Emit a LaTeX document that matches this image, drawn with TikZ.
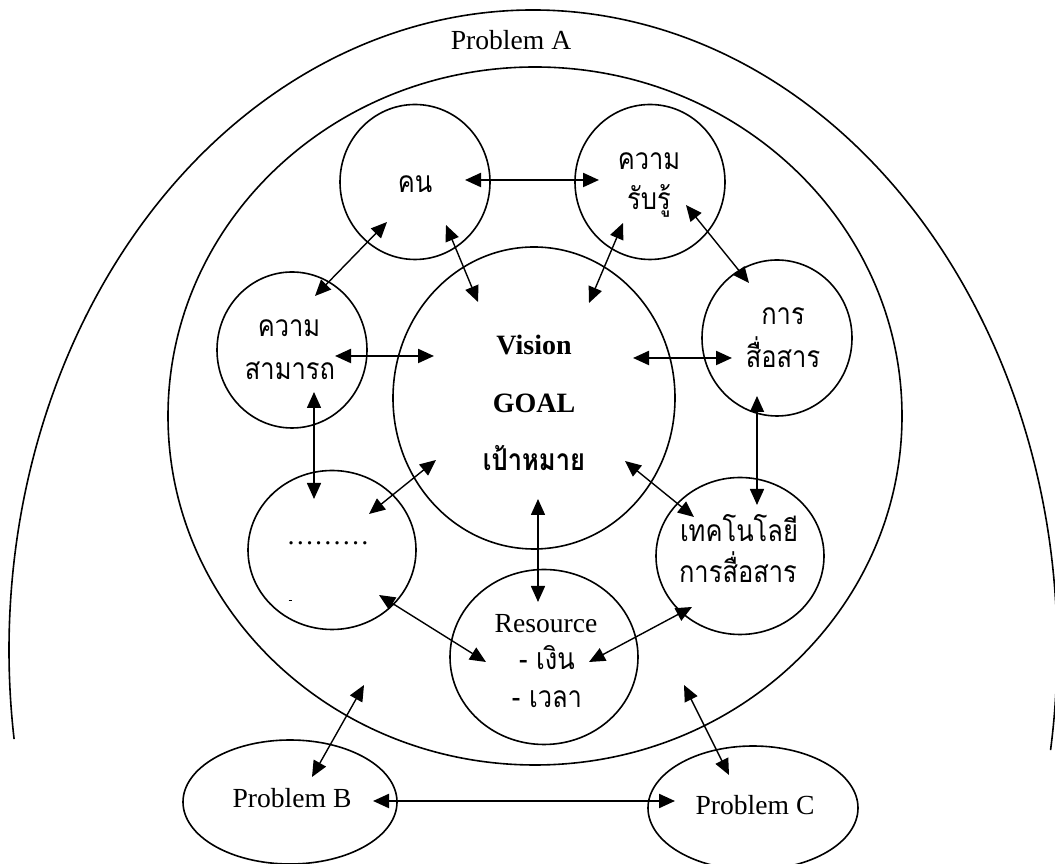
\documentclass[tikz,border=0pt]{standalone}
\usepackage{fontspec}
\setmainfont{Liberation Serif}
\newfontfamily\thai[Script=Thai,FakeStretch=0.85]{Loma}
\usetikzlibrary{shapes.geometric,arrows.meta}
\begin{document}
\begin{tikzpicture}[x=1pt,y=1pt,
  ring/.style={draw,line width=1.6pt,ellipse,inner sep=0pt},
  link/.style={arrows={Triangle[length=16pt,width=14pt]-Triangle[length=16pt,width=14pt]},line width=1.4pt},
  heavy link/.style={link,line width=2.2pt},
  lat/.style={anchor=base,inner sep=0pt,font=\fontsize{27.6}{30}\selectfont},
  latb/.style={lat,font=\bfseries\fontsize{28}{30}\selectfont},
  th/.style={anchor=base,inner sep=0pt,font=\thai\fontsize{30}{32}\selectfont},
  thb/.style={th,font=\thai\bfseries\fontsize{30}{32}\selectfont},
]
\useasboundingbox (0,0) rectangle (1055,864);

% outer boundary of Problem A
\draw[line width=1.6pt] (533,214) ++(-9:524 and 640)
  arc[start angle=-9,end angle=188,x radius=524,y radius=640];
\node[lat] (pA) at (511,814) {Problem A};

% inner boundary
\node[ring,minimum width=734pt,minimum height=698pt] (inner) at (535,448) {};

% circles
\node[ring,minimum width=150pt,minimum height=155pt] (kon)   at (415,682) {};
\node[ring,minimum width=150pt,minimum height=155pt] (rabru) at (650,682) {};
\node[ring,minimum width=150pt,minimum height=156pt] (samart) at (292,514) {};
\node[ring,minimum width=150pt,minimum height=156pt] (sue)   at (777,526) {};
\node[ring,minimum width=168pt,minimum height=159pt] (dots)  at (332,314) {};
\node[ring,minimum width=168pt,minimum height=157pt] (tech)  at (740,308) {};
\node[ring,minimum width=188pt,minimum height=175pt] (res)   at (544,207) {};
\node[ring,minimum width=282pt,minimum height=302pt] (goal)  at (534,466) {};
\node[ring,minimum width=214pt,minimum height=124pt] (pB)    at (290,62) {};
\node[ring,minimum width=210pt,minimum height=124pt] (pC)    at (753,56) {};

% labels
\node[th] (konT) at (415,671) {คน};
\node[th] (rabT1) at (649,694) {ความ};
\node[th] (rabT2) at (649,654) {รับรู้};
\node[th] (samT1) at (289,527) {ความ};
\node[th] (samT2) at (290,484) {สามารถ};
\node[th] (sueT1) at (783,539) {การ};
\node[th] (sueT2) at (783,496) {สื่อสาร};
\node[lat] (dotT) at (328,319) {………};
\node[th] (techT1) at (739,322) {เทคโนโลยี};
\node[th] (techT2) at (738,281) {การสื่อสาร};
\node[lat] (resT1) at (546,231) {Resource};
\node[th] (resT2) at (547,194) {- เงิน};
\node[th] (resT3) at (547,156) {- เวลา};
\node[latb] (goalT1) at (534,509) {Vision};
\node[latb] (goalT2) at (534,451) {GOAL};
\node[thb] (goalT3) at (534,393) {เป้าหมาย};
\node[lat] (pBT) at (292,56) {Problem B};
\node[lat] (pCT) at (755,49) {Problem C};
\draw[line width=0.8pt] (288.5,264) -- (291.5,264);

% arrow end points
\coordinate (k-r)  at (465,684);  \coordinate (r-k)  at (599,684);
\coordinate (k-s)  at (387,642);  \coordinate (s-k)  at (315,568);
\coordinate (k-g)  at (446,639);  \coordinate (g-k)  at (478,562);
\coordinate (r-g)  at (623,641);  \coordinate (g-r)  at (589,561);
\coordinate (r-c)  at (686,659);  \coordinate (c-r)  at (749,581);
\coordinate (s-g)  at (335,508);  \coordinate (g-s)  at (434,508);
\coordinate (g-c)  at (633,506);  \coordinate (c-g)  at (732,506);
\coordinate (s-d)  at (314,472);  \coordinate (d-s)  at (314,365);
\coordinate (c-t)  at (757,468);  \coordinate (t-c)  at (757,359);
\coordinate (g-d)  at (436,404);  \coordinate (d-g)  at (369,350);
\coordinate (g-t)  at (625,403);  \coordinate (t-g)  at (694,347);
\coordinate (g-e)  at (538,365);  \coordinate (e-g)  at (538,262);
\coordinate (d-e)  at (379,269);  \coordinate (e-d)  at (486,202);
\coordinate (t-e)  at (692,257);  \coordinate (e-t)  at (589,202);
\coordinate (b-i)  at (312,87);   \coordinate (i-b)  at (364,179);
\coordinate (i-cc) at (684,179);  \coordinate (cc-i) at (729,89);
\coordinate (b-cc) at (373,63);   \coordinate (cc-b) at (675,63);

% connectors
\draw[heavy link] (k-r) -- (r-k);
\draw[link] (k-s) -- (s-k);
\draw[link] (k-g) -- (g-k);
\draw[link] (r-g) -- (g-r);
\draw[link] (r-c) -- (c-r);
\draw[heavy link] (s-g) -- (g-s);
\draw[heavy link] (g-c) -- (c-g);
\draw[link,line width=1.6pt] (s-d) -- (d-s);
\draw[link,line width=1.6pt] (c-t) -- (t-c);
\draw[link] (g-d) -- (d-g);
\draw[link] (g-t) -- (t-g);
\draw[link,line width=1.6pt] (g-e) -- (e-g);
\draw[link] (d-e) -- (e-d);
\draw[link] (t-e) -- (e-t);
\draw[link] (b-i) -- (i-b);
\draw[link] (i-cc) -- (cc-i);
\draw[heavy link] (b-cc) -- (cc-b);
\end{tikzpicture}
\end{document}
